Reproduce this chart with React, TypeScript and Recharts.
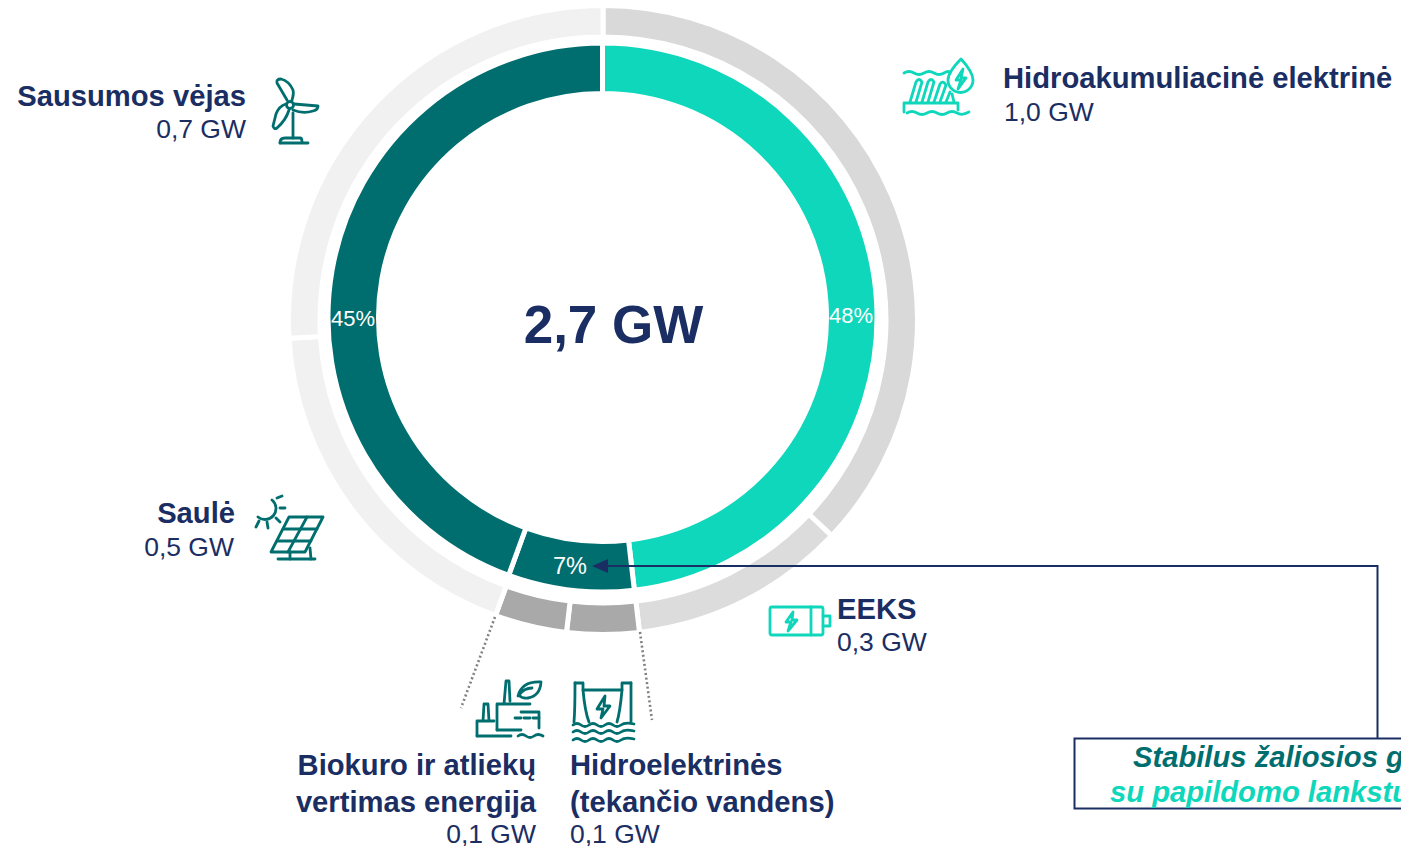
import React from 'react';
import { PieChart, Pie, Cell } from 'recharts';

// outer ring: installed capacity per source, GW (clockwise from the top)
const sourceNames = [
  'Hidroakumuliacinė elektrinė',
  'EEKS',
  'Hidroelektrinės',
  'Biokuro ir atliekų',
  'Saulė',
  'Sausumos vėjas',
];
const sourceGw = [1.0, 0.3, 0.1, 0.1, 0.5, 0.7];
const sourceColors = ['#D9D9D9', '#DCDCDC', '#A9A9A9', '#A9A9A9', '#F1F1F1', '#F1F1F1'];

// inner ring: grouped shares, GW, with the percentages as printed
const groupNames = ['Kaupimas', 'Valdoma', 'Kintama'];
const groupGw = [1.3, 0.2, 1.2];
const groupShareLabels = ['48%', '7%', '45%'];
const groupColors = ['#0FD7BB', '#006E6E', '#006E6E'];

const totalLabel = '2,7 GW';

const NAVY = '#1B2E63';
const TEAL = '#006E6E';
const MINT = '#0FD7BB';
const FONT = '"Liberation Sans", Arial, sans-serif';

const sourceData = sourceNames.map((name, i) => ({ name, value: sourceGw[i] }));
const groupData = groupNames.map((name, i) => ({ name, value: groupGw[i] }));

const gwText = (v: number) => `${v.toFixed(1).replace('.', ',')} GW`;

// the share labels sit where the original slide put them, not on the slice mid angle
const shareLabelSpots = [
  { x: 851, y: 323, size: 22 },
  { x: 570, y: 574, size: 23.5 },
  { x: 353, y: 326, size: 22 },
];

const renderShareLabel = (props: any) => {
  const spot = shareLabelSpots[props.index];
  return (
    <text x={spot.x} y={spot.y} fill="#fff" fontSize={spot.size} fontFamily={FONT} textAnchor="middle">
      {groupShareLabels[props.index]}
    </text>
  );
};

const SourceLabel = ({
  x,
  y,
  index,
  anchor = 'start',
  lines,
  valueX,
  valueY,
}: {
  x: number;
  y: number;
  index: number;
  anchor?: 'start' | 'end';
  lines?: string[];
  valueX?: number;
  valueY: number;
}) => (
  <g fontFamily={FONT} fill={NAVY} textAnchor={anchor}>
    {(lines ?? [sourceNames[index]]).map((line, i) => (
      <text key={line} x={x} y={y + i * 37} fontSize={29.2} fontWeight="bold">
        {line}
      </text>
    ))}
    <text x={valueX ?? x} y={valueY} fontSize={26.5}>
      {gwText(sourceGw[index])}
    </text>
  </g>
);

const WindIcon = () => (
  <g fill="none" stroke={TEAL} strokeWidth={2.8} strokeLinecap="round" strokeLinejoin="round">
    <circle cx={290} cy={105} r={3.5} />
    <path d="M287 100 L277 83 Q276 79 281 79 Q289 81 293 90 Q294 94 292 100" />
    <path d="M294 104 L318 106 Q318 110 313 111 Q303 114 293 110" />
    <path d="M286 104 Q279 106 276 114 L273 126 Q274 130 277 128 Q286 120 289 110" />
    <path d="M293 113 V138" />
    <path d="M280 143 Q280 138 285 138 H300 Q302 138 302 142" />
    <path d="M280 143 H308" />
  </g>
);

const HydroStorageIcon = () => (
  <g fill="none" stroke={MINT} strokeWidth={2.8} strokeLinecap="round" strokeLinejoin="round">
    <path d="M904 73 Q909 70 914 73 T924 73 T934 73 T944 73 T950 73" />
    <path d="M961 59 Q973 72 973 80 A12.5 12.5 0 0 1 948 80 Q948 72 961 59 Z" />
    <path d="M963 69 L956 80 H961 L958 89 L966 78 H961 Z" />
    <path d="M910 102 L916 82 Q919 77 922 82 L916 102 M922 102 L928 82 Q931 77 934 82 L928 102 M934 102 L940 84 Q943 80 946 85 L940 102 M946 102 L950 92 M952 94 L954 102" />
    <path d="M904 112 V103 H958 V110" />
    <path d="M907 113 Q912 110 917 113 T927 113 T937 113 T947 113 T957 113 T969 112" />
  </g>
);

const SolarIcon = () => (
  <g fill="none" stroke={TEAL} strokeWidth={2.8} strokeLinecap="round" strokeLinejoin="round">
    <path d="M272 500 A11 11 0 0 1 258 517" />
    <path d="M277 498 L282 496 M280 508 H285 M276 518 L280 522 M267 522 L268 528 M259 521 L256 527" />
    <path d="M289 517 H323 L305 552 H271 Z" />
    <path d="M307 517 L288 552" />
    <path d="M283 529 H317 M277 541 H311" />
    <path d="M290 552 V559 M310 548 L311 559" />
    <path d="M278 559 H315" />
  </g>
);

const BatteryIcon = () => (
  <g fill="none" stroke={MINT} strokeWidth={2.8} strokeLinecap="round" strokeLinejoin="round">
    <rect x={770} y={607} width={53} height={28} rx={2} />
    <path d="M811 607 V635" />
    <path d="M823 616 H830 V626 H823" />
    <path d="M793 612 L786 622 H791 L788 631 L797 620 H792 Z" />
  </g>
);

const BiomassIcon = () => (
  <g fill="none" stroke={TEAL} strokeWidth={2.8} strokeLinecap="round" strokeLinejoin="round">
    <path d="M477 736 V721 H494 M483 721 L484 704 H488 L489 721" />
    <path d="M477 736 H511" />
    <path d="M497 730 V704 H530 M504 704 L506 681 H509 L510 701" />
    <path d="M497 730 H521" />
    <path d="M521 712 H539 V728" />
    <path d="M515 718 H540" strokeDasharray="6 3" />
    <path d="M518 696 Q522 681 541 682 Q540 696 528 698 Q522 699 519 695 M519 695 Q524 688 532 688" />
    <path d="M518 736 Q522 733 526 736 T534 736 T543 736" />
  </g>
);

const DamIcon = () => (
  <g fill="none" stroke={TEAL} strokeWidth={2.8} strokeLinecap="round" strokeLinejoin="round">
    <path d="M575 683 H583 V690 H622 V683 H631" />
    <path d="M575 683 Q575 710 574 722 M583 690 Q585 712 589 722" />
    <path d="M631 683 V722 M622 690 Q620 712 617 722" />
    <path d="M605 696 L597 709 H603 L601 718 L610 706 H604 Z" />
    <path d="M573 725 Q577 722 581 725 T589 725 T597 725 T605 725 T613 725 T621 725 T634 724" />
    <path d="M573 732 Q577 729 581 732 T589 732 T597 732 T605 732 T613 732 T621 732 T634 731" />
    <path d="M573 740 Q577 737 581 740 T589 740 T597 740 T605 740 T613 740 T621 740 T634 739" />
  </g>
);

const App = () => (
  <div style={{ position: 'absolute', left: 0, top: 0, width: 1401, height: 846, overflow: 'hidden', background: '#fff' }}>
    <PieChart width={1401} height={846} margin={{ top: 0, right: 0, bottom: 0, left: 0 }}>
      <Pie
        data={sourceData}
        dataKey="value"
        cx={603}
        cy={320}
        innerRadius={283}
        outerRadius={314.5}
        startAngle={90}
        endAngle={-270}
        stroke="#fff"
        strokeWidth={5}
        isAnimationActive={false}
      >
        {sourceData.map((d, i) => (
          <Cell key={d.name} fill={sourceColors[i]} />
        ))}
      </Pie>
      <Pie
        data={groupData}
        dataKey="value"
        cx={602.5}
        cy={317.5}
        innerRadius={224}
        outerRadius={274.5}
        startAngle={90}
        endAngle={-270}
        stroke="#fff"
        strokeWidth={5}
        label={renderShareLabel}
        labelLine={false}
        isAnimationActive={false}
      >
        {groupData.map((d, i) => (
          <Cell key={d.name} fill={groupColors[i]} />
        ))}
      </Pie>
    </PieChart>

    <svg width={1401} height={846} style={{ position: 'absolute', left: 0, top: 0 }}>
      <text x={613.5} y={343} fontFamily={FONT} fontSize={53} fontWeight="bold" fill={NAVY} textAnchor="middle">
        {totalLabel}
      </text>

      {/* leader lines for the two small slices */}
      <path d="M495 617 L461 708" stroke="#808080" strokeWidth={2.6} strokeDasharray="2 2.6" fill="none" />
      <path d="M640 632 L652 720" stroke="#808080" strokeWidth={2.6} strokeDasharray="2 2.6" fill="none" />

      {/* callout from the 7% slice to the box */}
      <path d="M1377.5 738 V566 H605" stroke={NAVY} strokeWidth={2} fill="none" />
      <path d="M592 566 L608 559 V573 Z" fill={NAVY} />
      <rect x={1074.5} y={738.5} width={400} height={70} fill="#fff" stroke={NAVY} strokeWidth={2} />
      <text x={1133} y={767} fontFamily={FONT} fontSize={29.2} fontWeight="bold" fontStyle="italic" fill={TEAL}>
        Stabilus žaliosios g
      </text>
      <text x={1110} y={802} fontFamily={FONT} fontSize={29.2} fontWeight="bold" fontStyle="italic" fill={MINT}>
        su papildomo lankstu
      </text>

      <SourceLabel index={5} x={246} y={106} anchor="end" valueY={138} />
      <SourceLabel index={0} x={1003} y={88} valueX={1004} valueY={121} />
      <SourceLabel index={4} x={235} y={523} anchor="end" valueX={234} valueY={556} />
      <SourceLabel index={1} x={837} y={619} valueY={651} />
      <SourceLabel index={3} x={536} y={775} anchor="end" lines={['Biokuro ir atliekų', 'vertimas energija']} valueY={843} />
      <SourceLabel index={2} x={570} y={775} lines={['Hidroelektrinės', '(tekančio vandens)']} valueY={843} />

      <WindIcon />
      <HydroStorageIcon />
      <SolarIcon />
      <BatteryIcon />
      <BiomassIcon />
      <DamIcon />
    </svg>
  </div>
);

export default App;
